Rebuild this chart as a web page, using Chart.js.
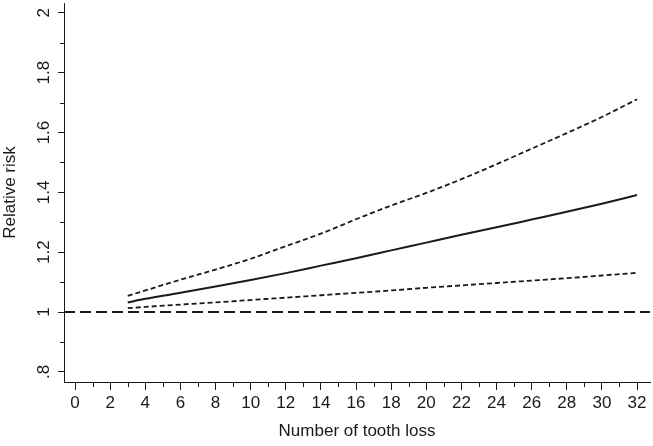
<!DOCTYPE html>
<html><head><meta charset="utf-8">
<script src="https://cdn.jsdelivr.net/npm/chart.js@4"></script>
<style>html,body{margin:0;padding:0;background:#fff}#wrap{width:653px;height:446px}</style>
</head><body><div id="wrap"><canvas id="c" width="653" height="446"></canvas></div>
<script>
const xValues   = [3, 4, 6, 8, 10, 12, 14, 16, 18, 20, 22, 24, 26, 28, 30, 32];
const rrEstimate = [1.032, 1.044, 1.064, 1.085, 1.107, 1.130, 1.155, 1.180, 1.206, 1.232, 1.258, 1.283, 1.309, 1.335, 1.362, 1.391];
const rrUpper    = [1.054, 1.072, 1.108, 1.142, 1.178, 1.220, 1.262, 1.310, 1.356, 1.398, 1.444, 1.494, 1.546, 1.598, 1.652, 1.711];
const rrLower    = [1.013, 1.017, 1.025, 1.032, 1.040, 1.048, 1.056, 1.064, 1.072, 1.081, 1.089, 1.097, 1.105, 1.113, 1.122, 1.131];
const xTickValues = [0, 2, 4, 6, 8, 10, 12, 14, 16, 18, 20, 22, 24, 26, 28, 30, 32];
const xMinorTicks = [1, 3, 5, 7, 9, 11, 13, 15, 17, 19, 21, 23, 25, 27, 29, 31];
const yTickValues = [0.8, 1.0, 1.2, 1.4, 1.6, 1.8, 2.0];
const yTickLabels = ['.8', '1', '1.2', '1.4', '1.6', '1.8', '2'];
const yMinorTicks = [0.9, 1.1, 1.3, 1.5, 1.7, 1.9];
const referenceRR = 1;

const INK = '#1a1a1a';
const FONT = '"Liberation Sans", Arial, sans-serif';
const FSIZE = 17;

function pts(ys) { return xValues.map((x, i) => ({ x: x, y: ys[i] })); }

const decor = {
  id: 'decor',
  beforeDatasetsDraw(chart) {
    const { ctx, chartArea, scales } = chart;
    const y = scales.y.getPixelForValue(referenceRR);
    ctx.save();
    ctx.strokeStyle = INK; ctx.lineWidth = 2; ctx.setLineDash([11, 5]);
    ctx.beginPath(); ctx.moveTo(chartArea.left, y); ctx.lineTo(chartArea.right, y); ctx.stroke();
    ctx.restore();
  },
  afterDraw(chart) {
    const { ctx, chartArea, scales } = chart;
    ctx.save();
    ctx.strokeStyle = INK; ctx.lineWidth = 1; ctx.setLineDash([]);
    ctx.beginPath();
    xMinorTicks.forEach(v => {
      const px = Math.round(scales.x.getPixelForValue(v)) + 0.5;
      ctx.moveTo(px, chartArea.bottom); ctx.lineTo(px, chartArea.bottom + 5);
    });
    yMinorTicks.forEach(v => {
      const py = Math.round(scales.y.getPixelForValue(v)) + 0.5;
      ctx.moveTo(chartArea.left, py); ctx.lineTo(chartArea.left - 4, py);
    });
    ctx.stroke();
    ctx.fillStyle = INK;
    ctx.font = FSIZE + 'px ' + FONT;
    ctx.textAlign = 'center'; ctx.textBaseline = 'middle';
    yTickValues.forEach((v, i) => {
      const py = scales.y.getPixelForValue(v);
      ctx.save();
      ctx.translate(44, py);
      ctx.rotate(-Math.PI / 2);
      ctx.fillText(yTickLabels[i], 0, 0);
      ctx.restore();
    });
    ctx.restore();
  }
};

new Chart(document.getElementById('c'), {
  type: 'line',
  data: {
    datasets: [
      { label: 'Upper 95% CI', data: pts(rrUpper), borderColor: INK, borderWidth: 1.8, borderDash: [5, 3], pointRadius: 0, cubicInterpolationMode: 'monotone', fill: false },
      { label: 'Relative risk', data: pts(rrEstimate), borderColor: INK, borderWidth: 2, pointRadius: 0, cubicInterpolationMode: 'monotone', fill: false },
      { label: 'Lower 95% CI', data: pts(rrLower), borderColor: INK, borderWidth: 1.8, borderDash: [5, 3], pointRadius: 0, cubicInterpolationMode: 'monotone', fill: false }
    ]
  },
  options: {
    responsive: false,
    animation: false,
    layout: { padding: { top: 3, right: 3, left: 0, bottom: 0 } },
    plugins: { legend: { display: false }, tooltip: { enabled: false } },
    scales: {
      x: {
        type: 'linear', min: -0.63, max: 32.74,
        afterBuildTicks: s => { s.ticks = xTickValues.map(v => ({ value: v })); },
        afterFit: s => { s.height = 64; },
        grid: { drawOnChartArea: false, tickLength: 8, tickColor: INK, tickWidth: 1 },
        border: { color: INK, width: 1 },
        ticks: { font: { family: FONT, size: FSIZE }, color: INK, padding: 3, maxRotation: 0, autoSkip: false },
        title: { display: true, text: 'Number of tooth loss', font: { family: FONT, size: FSIZE }, color: INK, padding: { top: 4, bottom: 4 } }
      },
      y: {
        type: 'linear', min: 0.766, max: 2.033,
        afterBuildTicks: s => { s.ticks = yTickValues.map(v => ({ value: v })); },
        afterFit: s => { s.width = 64; },
        grid: { drawOnChartArea: false, tickLength: 6, tickColor: INK, tickWidth: 1 },
        border: { color: INK, width: 1 },
        ticks: { display: false },
        title: { display: true, text: 'Relative risk', font: { family: FONT, size: FSIZE }, color: INK, padding: { top: 0, bottom: 0 } }
      }
    }
  },
  plugins: [decor]
});
</script>
</body></html>
